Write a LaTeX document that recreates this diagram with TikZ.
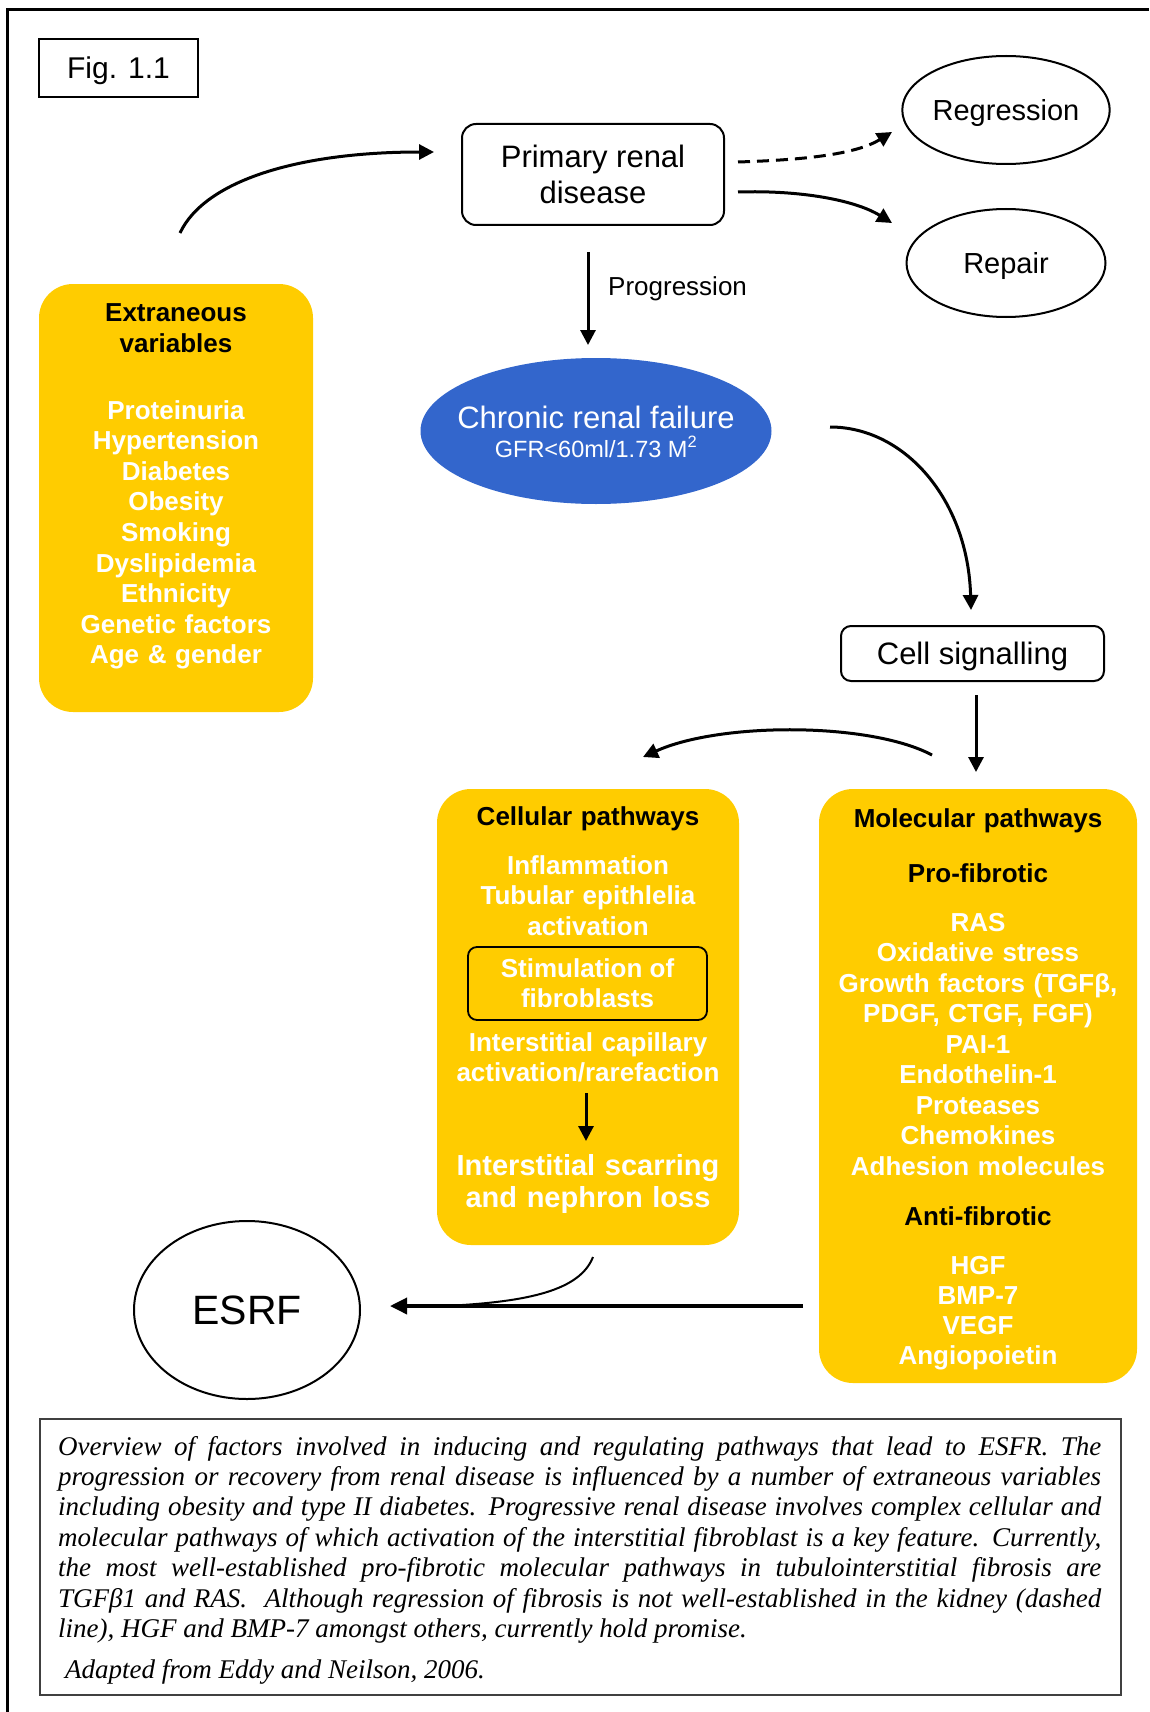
\documentclass[tikz,border=0pt]{standalone}
\usepackage{fontspec}
\setmainfont{Liberation Sans}
\newfontfamily\capfont{Liberation Serif}
\usetikzlibrary{arrows.meta,shapes.geometric}
\definecolor{ylw}{HTML}{FFCC00}
\definecolor{crfblue}{HTML}{3366CC}
\tikzset{
  pbox/.style={draw, line width=2pt, rounded corners=14pt, inner sep=0pt, text depth=0pt},
  oval/.style={draw, ellipse, line width=2pt, inner sep=0pt, text depth=0pt},
  ybox/.style={fill=ylw, rounded corners=34pt, inner sep=0pt},
  conn/.style={line width=3pt, -{Triangle[length=15pt,width=15pt]}},
  ytitle/.style={anchor=base, inner sep=0pt, align=center, text width=300pt, text=black,
                 font=\bfseries\fontsize{26}{31}\selectfont},
  yitems/.style={anchor=base, inner sep=0pt, align=center, text width=310pt, text=white,
                 font=\bfseries\fontsize{26}{30.6}\selectfont},
}
\begin{document}
\begin{tikzpicture}[x=1pt,y=-1pt]
\useasboundingbox (0,0) rectangle (1149,1712);
% frame
\draw[line width=2.5pt] (7.5,1712) -- (7.5,9.5) -- (1149,9.5);

% nodes
\node[draw, line width=2pt, minimum width=159pt, minimum height=58pt, inner sep=0pt, text depth=0pt,
      font=\fontsize{30}{36}\selectfont] (fig) at (118.5,68) {Fig. 1.1};
\node[pbox, minimum width=262pt, minimum height=101pt, align=center,
      font=\fontsize{31}{36}\selectfont] (prd) at (593,174.5) {Primary renal\\disease};
\node[oval, minimum width=199pt, minimum height=108pt, font=\fontsize{29}{34}\selectfont]
      (reg) at (1006,110) {Regression};
\node[oval, minimum width=199pt, minimum height=108pt, font=\fontsize{29}{34}\selectfont]
      (rep) at (1006,263) {Repair};
\node[anchor=base west, inner sep=0pt, font=\fontsize{26}{30}\selectfont] (prog) at (608,295) {Progression};
\node[ellipse, fill=crfblue, minimum width=351pt, minimum height=146pt, inner sep=0pt] (crf) at (596,431) {};
\node[anchor=base, inner sep=0pt, text=white] (crftext) at (596,428)
      {\parbox[t]{340pt}{\centering{\fontsize{31}{36}\selectfont Chronic renal failure\par}{\fontsize{23.5}{29}\selectfont GFR<60ml/1.73 M\textsuperscript{2}\par}}};
\node[pbox, rounded corners=10pt, minimum width=263pt, minimum height=55pt,
      font=\fontsize{31}{36}\selectfont] (cs) at (972.5,653.5) {Cell signalling};

% extraneous box
\node[ybox, minimum width=274pt, minimum height=428pt] (ext) at (176,498) {};
\node[ytitle] (exttitle) at (176,321) {Extraneous\\variables};
\node[yitems] (extitems) at (176,419) {Proteinuria\\Hypertension\\Diabetes\\Obesity\\Smoking\\Dyslipidemia\\Ethnicity\\Genetic factors\\Age \& gender};

% cellular box
\node[ybox, minimum width=302pt, minimum height=456pt] (cell) at (588,1017) {};
\node[ytitle] (celltitle) at (588,825) {Cellular pathways};
\node[yitems, font=\bfseries\fontsize{26}{30.5}\selectfont] (cellitems) at (588,874) {Inflammation\\Tubular epithlelia\\activation};
\node[draw, line width=1.8pt, rounded corners=9pt, minimum width=239pt, minimum height=73pt, inner sep=0pt,
      align=center, text=white, font=\bfseries\fontsize{26}{30}\selectfont] (stim) at (587.5,983.5) {Stimulation of\\fibroblasts};
\node[yitems, font=\bfseries\fontsize{26}{30}\selectfont] (capil) at (588,1051) {Interstitial capillary\\activation/rarefaction};
\node[yitems, font=\bfseries\fontsize{29}{32}\selectfont] (scar) at (588,1175) {Interstitial scarring\\and nephron loss};

% molecular box
\node[ybox, minimum width=318pt, minimum height=594pt] (mol) at (978,1086) {};
\node[ytitle] (moltitle) at (978,827) {Molecular pathways};
\node[ytitle] (pro) at (978,882) {Pro-fibrotic};
\node[yitems, font=\bfseries\fontsize{26}{30.5}\selectfont] (proitems) at (978,931)
  {RAS\\Oxidative stress\\Growth factors (TGFβ,\\PDGF, CTGF, FGF)\\PAI-1\\Endothelin-1\\Proteases\\Chemokines\\Adhesion molecules};
\node[ytitle] (anti) at (978,1225) {Anti-fibrotic};
\node[yitems, font=\bfseries\fontsize{26}{30}\selectfont] (antiitems) at (978,1274) {HGF\\BMP-7\\VEGF\\Angiopoietin};

% ESRF
\node[oval, minimum width=226pt, minimum height=178pt, font=\fontsize{41}{48}\selectfont] (esrf) at (247,1310) {ESRF};

% caption
\node[draw=black!75, line width=2.5pt, minimum width=1081pt, minimum height=276pt, inner sep=0pt] (capbox) at (580.5,1557) {};
\node[anchor=base west, inner sep=0pt] (captext) at (58,1455) {\parbox[t]{1043pt}{%
  \setlength\parindent{0pt}\capfont\itshape\fontsize{27}{30.4}\selectfont
  \makebox[\linewidth][s]{Overview of factors involved in inducing and regulating pathways that lead to ESFR. The}\\
  \makebox[\linewidth][s]{progression or recovery from renal disease is influenced by a number of extraneous variables}\\
  \makebox[\linewidth][s]{including obesity and type II diabetes. Progressive renal disease involves complex cellular and}\\
  \makebox[\linewidth][s]{molecular pathways of which activation of the interstitial fibroblast is a key feature. Currently,}\\
  \makebox[\linewidth][s]{the most well-established pro-fibrotic molecular pathways in tubulointerstitial fibrosis are}\\
  \makebox[\linewidth][s]{TGFβ1 and RAS.\ \ Although regression of fibrosis is not well-established in the kidney (dashed}\\
  line), HGF and BMP-7 amongst others, currently hold promise.\\[10.6pt]
  \hspace*{7pt}Adapted from Eddy and Neilson, 2006.}};

% connector end points
\coordinate (a1s) at (180,233);  \coordinate (a1e) at (434,152);
\coordinate (d1s) at (738,162);  \coordinate (d1e) at (892,132);
\coordinate (r1s) at (738,192);  \coordinate (r1e) at (892,223);
\coordinate (p1s) at (588,252);  \coordinate (p1e) at (588,345);
\coordinate (c1s) at (830,427);  \coordinate (c1e) at (971,610);
\coordinate (m1s) at (976,695);  \coordinate (m1e) at (976,772);
\coordinate (l1s) at (932,755);  \coordinate (l1e) at (643,757);
\coordinate (i1s) at (586,1093); \coordinate (i1e) at (586,1141);
\coordinate (s1s) at (593,1257); \coordinate (s1e) at (444,1306);
\coordinate (e1s) at (803,1306); \coordinate (e1e) at (390,1306);

\draw[conn] (a1s) .. controls (205,180) and (300,152) .. (a1e);
\draw[conn, dash pattern=on 12pt off 7pt] (d1s) .. controls (800,160) and (855,155) .. (d1e);
\draw[conn] (r1s) .. controls (800,190) and (855,200) .. (r1e);
\draw[conn] (p1s) -- (p1e);
\draw[conn] (c1s) .. controls (905,427) and (968,500) .. (c1e);
\draw[conn] (m1s) -- (m1e);
\draw[conn] (l1s) .. controls (870,722) and (720,722) .. (l1e);
\draw[conn] (i1s) -- (i1e);
\draw[line width=2pt] (s1s) .. controls (580,1290) and (530,1302) .. (s1e);
\draw[line width=3.5pt, -{Triangle[length=17pt,width=16pt]}] (e1s) -- (e1e);
\end{tikzpicture}
\end{document}
